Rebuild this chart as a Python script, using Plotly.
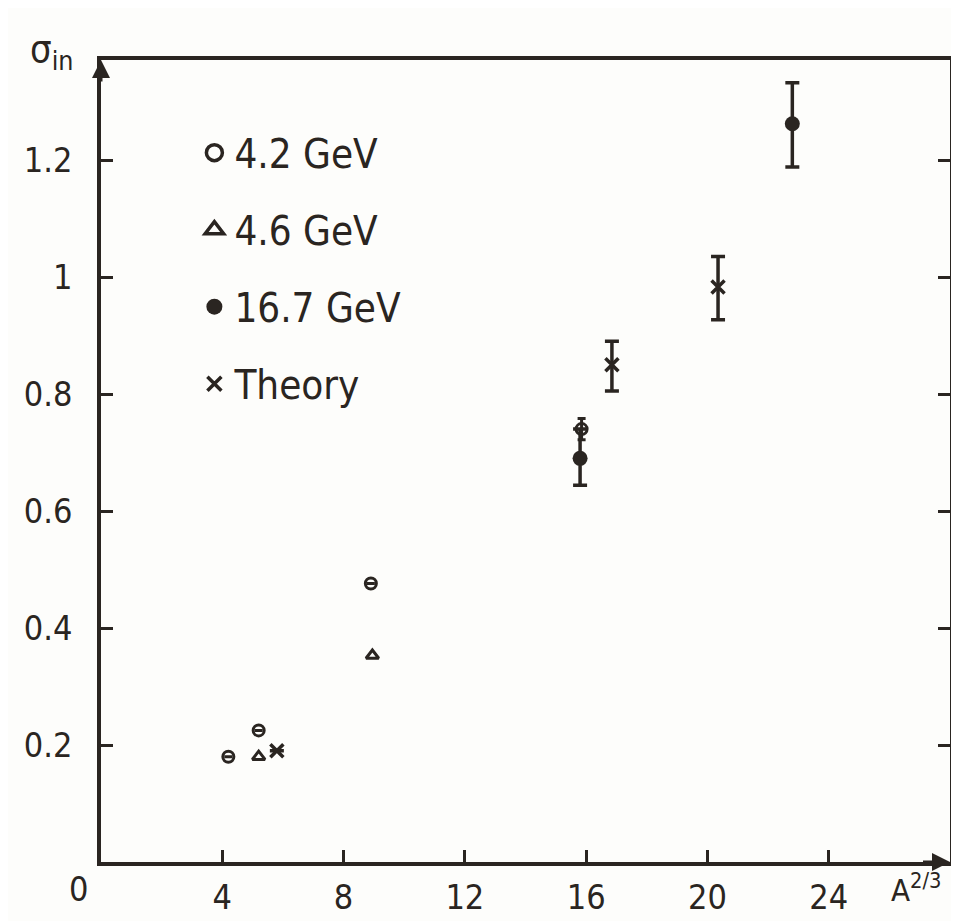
import plotly.graph_objects as go

# ---- data ----
x_42 = [4.2, 5.2, 8.9, 15.85]
y_42 = [0.18, 0.225, 0.476, 0.74]
e_42 = [0, 0, 0, 0.018]

x_46 = [5.2, 8.95]
y_46 = [0.18, 0.353]

x_167 = [15.8, 22.8]
y_167 = [0.69, 1.262]
e_167_plus = [0.05, 0.07]
e_167_minus = [0.046, 0.074]

x_th = [5.8, 16.85, 20.35]
y_th = [0.19, 0.85, 0.983]
e_th_plus = [0, 0.04, 0.052]
e_th_minus = [0, 0.045, 0.056]

x_ticks = [4, 8, 12, 16, 20, 24]
y_ticks = [0.2, 0.4, 0.6, 0.8, 1.0, 1.2]
y_tick_text = ["0.2", "0.4", "0.6", "0.8", "1", "1.2"]

INK = "#2a2521"
FONT = "DejaVu Sans Condensed, DejaVu Sans, sans-serif"

fig = go.Figure()

# data traces
fig.add_trace(go.Scatter(
    x=x_42, y=y_42, mode="markers", name="4.2 GeV", showlegend=False,
    marker=dict(symbol="circle-open", size=11, color=INK, line=dict(width=3, color=INK)),
    error_y=dict(type="data", array=e_42, color=INK, thickness=3, width=4)))
fig.add_trace(go.Scatter(
    x=x_46, y=y_46, mode="markers", name="4.6 GeV", showlegend=False,
    marker=dict(symbol="triangle-up-open", size=11, color=INK, line=dict(width=3, color=INK))))
fig.add_trace(go.Scatter(
    x=x_167, y=y_167, mode="markers", name="16.7 GeV", showlegend=False,
    marker=dict(symbol="circle", size=15, color=INK),
    error_y=dict(type="data", symmetric=False, array=e_167_plus, arrayminus=e_167_minus,
                 color=INK, thickness=3.5, width=7)))
fig.add_trace(go.Scatter(
    x=x_th, y=y_th, mode="markers", name="Theory", showlegend=False,
    marker=dict(symbol="x-thin-open", size=13, color=INK, line=dict(width=3.5, color=INK)),
    error_y=dict(type="data", symmetric=False, array=e_th_plus, arrayminus=e_th_minus,
                 color=INK, thickness=3.5, width=7)))

# legend entries (larger symbols, as in the key of the figure)
legend_items = [
    ("4.2 GeV", dict(symbol="circle-open", size=16, color=INK, line=dict(width=3.5, color=INK))),
    ("4.6 GeV", dict(symbol="triangle-up-open", size=16, color=INK, line=dict(width=3.5, color=INK))),
    ("16.7 GeV", dict(symbol="circle", size=16, color=INK)),
    ("Theory", dict(symbol="x-thin-open", size=14, color=INK, line=dict(width=3.5, color=INK))),
]
for i, (nm, mk) in enumerate(legend_items):
    fig.add_trace(go.Scatter(x=[None], y=[None], mode="markers", name=nm, marker=mk,
                             legendgroup=str(i), showlegend=True))

fig.update_layout(
    width=959, height=921,
    margin=dict(l=93, r=17, t=52, b=53),
    paper_bgcolor="#fdfdfb", plot_bgcolor="#fdfdfb",
    font=dict(family=FONT, color=INK),
    legend=dict(x=0.11, y=0.925, xanchor="left", yanchor="top",
                bgcolor="rgba(0,0,0,0)", font=dict(size=40, family=FONT, color=INK),
                tracegroupgap=22, itemsizing="trace"),
    showlegend=True,
)

fig.update_xaxes(
    range=[0, 28.0], tickmode="array", tickvals=x_ticks,
    ticktext=[str(v) for v in x_ticks],
    ticks="inside", ticklen=12, tickwidth=3, tickcolor=INK,
    showline=True, linewidth=3.5, linecolor=INK, mirror=True,
    showgrid=False, zeroline=False,
    tickfont=dict(size=34, family=FONT, color=INK),
    ticklabelstandoff=2,
)
fig.update_yaxes(
    range=[0, 1.371], tickmode="array", tickvals=y_ticks, ticktext=y_tick_text,
    ticks="inside", ticklen=12, tickwidth=3, tickcolor=INK,
    showline=True, linewidth=3.5, linecolor=INK, mirror="ticks",
    showgrid=False, zeroline=False,
    tickfont=dict(size=34, family=FONT, color=INK),
    ticklabelstandoff=18,
)

# axis arrows and titles
fig.add_annotation(x=0, y=1.0, xref="x", yref="paper", ax=0, ay=30, axref="pixel", ayref="pixel",
                   showarrow=True, arrowhead=2, arrowsize=1.2, arrowwidth=3, arrowcolor=INK, text=" ")
fig.add_annotation(x=1.0, y=0, xref="paper", yref="y", ax=-30, ay=0,
                   showarrow=True, arrowhead=2, arrowsize=1.2, arrowwidth=3, arrowcolor=INK, text=" ")
fig.add_annotation(x=-0.058, y=1.01, xref="paper", yref="paper", xanchor="center", yanchor="middle",
                   text="σ<sub>in</sub>", showarrow=False, font=dict(size=38, family=FONT, color=INK))
fig.add_annotation(x=0.96, y=-0.033, xref="paper", yref="paper", xanchor="center", yanchor="middle",
                   text="A<sup>2/3</sup>", showarrow=False, font=dict(size=31, family=FONT, color=INK))
fig.add_annotation(x=-0.027, y=-0.034, xref="paper", yref="paper", xanchor="center", yanchor="middle",
                   text="0", showarrow=False, font=dict(size=34, family=FONT, color=INK))

fig.write_html("out.html")
